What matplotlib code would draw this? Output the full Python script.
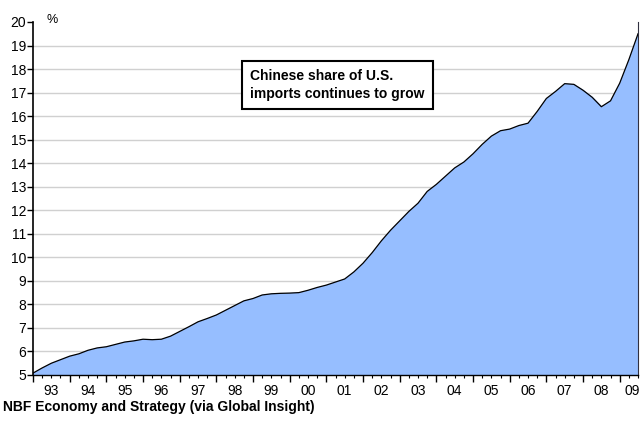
import matplotlib
matplotlib.use("Agg")
import matplotlib.pyplot as plt
from matplotlib.ticker import MultipleLocator, FixedLocator, NullFormatter

plt.rcParams['font.family'] = ['Liberation Sans', 'DejaVu Sans']

# quarterly points (decimal year, % share)
years = [1993.00, 1993.25, 1993.50, 1993.75, 1994.00, 1994.25, 1994.50, 1994.75,
         1995.00, 1995.25, 1995.50, 1995.75, 1996.00, 1996.25, 1996.50, 1996.75,
         1997.00, 1997.25, 1997.50, 1997.75, 1998.00, 1998.25, 1998.50, 1998.75,
         1999.00, 1999.25, 1999.50, 1999.75, 2000.00, 2000.25, 2000.50, 2000.75,
         2001.00, 2001.25, 2001.50, 2001.75, 2002.00, 2002.25, 2002.50, 2002.75,
         2003.00, 2003.25, 2003.50, 2003.75, 2004.00, 2004.25, 2004.50, 2004.75,
         2005.00, 2005.25, 2005.50, 2005.75, 2006.00, 2006.25, 2006.50, 2006.75,
         2007.00, 2007.25, 2007.50, 2007.75, 2008.00, 2008.25, 2008.50, 2008.75,
         2009.00, 2009.25, 2009.50]
share = [5.08, 5.30, 5.50, 5.65, 5.80, 5.90, 6.05, 6.15,
         6.20, 6.30, 6.40, 6.45, 6.52, 6.50, 6.52, 6.65,
         6.85, 7.05, 7.26, 7.40, 7.55, 7.75, 7.95, 8.15,
         8.25, 8.40, 8.45, 8.47, 8.48, 8.50, 8.60, 8.72,
         8.82, 8.95, 9.08, 9.38, 9.75, 10.20, 10.70, 11.15,
         11.55, 11.95, 12.30, 12.80, 13.10, 13.45, 13.80, 14.05,
         14.40, 14.80, 15.15, 15.38, 15.45, 15.60, 15.70, 16.20,
         16.75, 17.05, 17.38, 17.35, 17.10, 16.80, 16.40, 16.65,
         17.40, 18.40, 19.50]

year_labels = ['93', '94', '95', '96', '97', '98', '99', '00', '01',
               '02', '03', '04', '05', '06', '07', '08', '09']

fig = plt.figure(figsize=(6.42, 4.23), dpi=100)
ax = fig.add_axes([0.0514, 0.1135, 0.9424, 0.8345])

ax.fill_between(years, 5, share, color='#96BEFF', zorder=2)
ax.plot(years, share, color='black', linewidth=0.9, zorder=3)

x_end = years[-1]
ax.set_xlim(years[0], x_end)
ax.set_ylim(5, 20)

# grid
ax.yaxis.set_major_locator(MultipleLocator(1))
for v in range(6, 20):
    ax.axhline(v, color='#D0D0D0', linewidth=1, zorder=1)

# x ticks: year boundaries major, quarters minor, labels mid-year
ax.xaxis.set_major_locator(FixedLocator(range(1993, 2010)))
ax.xaxis.set_minor_locator(MultipleLocator(0.25))
ax.xaxis.set_major_formatter(NullFormatter())
ax.tick_params(axis='x', which='major', direction='out', length=5, width=1)
ax.tick_params(axis='x', which='minor', direction='out', length=2.5, width=0.8)
for i, lab in enumerate(year_labels):
    xc = min(1993 + i + 0.5, x_end - 0.15)
    ax.text(xc, -0.025, lab, transform=ax.get_xaxis_transform(),
            ha='center', va='top', fontsize=10, clip_on=False)

ax.tick_params(axis='y', direction='out', length=4, width=1, labelsize=10, pad=1)

ax.spines['top'].set_visible(False)
ax.spines['right'].set_color('#303040')
ax.spines['left'].set_linewidth(1.2)
ax.spines['bottom'].set_linewidth(1.0)

fig.text(0.081, 0.953, '%', fontsize=9, ha='center', va='center')

ax.text(0.359, 0.8215, 'Chinese share of U.S.\nimports continues to grow',
        transform=ax.transAxes, ha='left', va='center', fontsize=10,
        fontweight='bold', linespacing=1.3,
        bbox=dict(boxstyle='square,pad=0.6', facecolor='white',
                  edgecolor='black', linewidth=1.5), zorder=5)

fig.text(0.005, 0.038, 'NBF Economy and Strategy (via Global Insight)',
         fontsize=10, fontweight='bold', ha='left', va='center')

fig.savefig('out.png', dpi=100)
